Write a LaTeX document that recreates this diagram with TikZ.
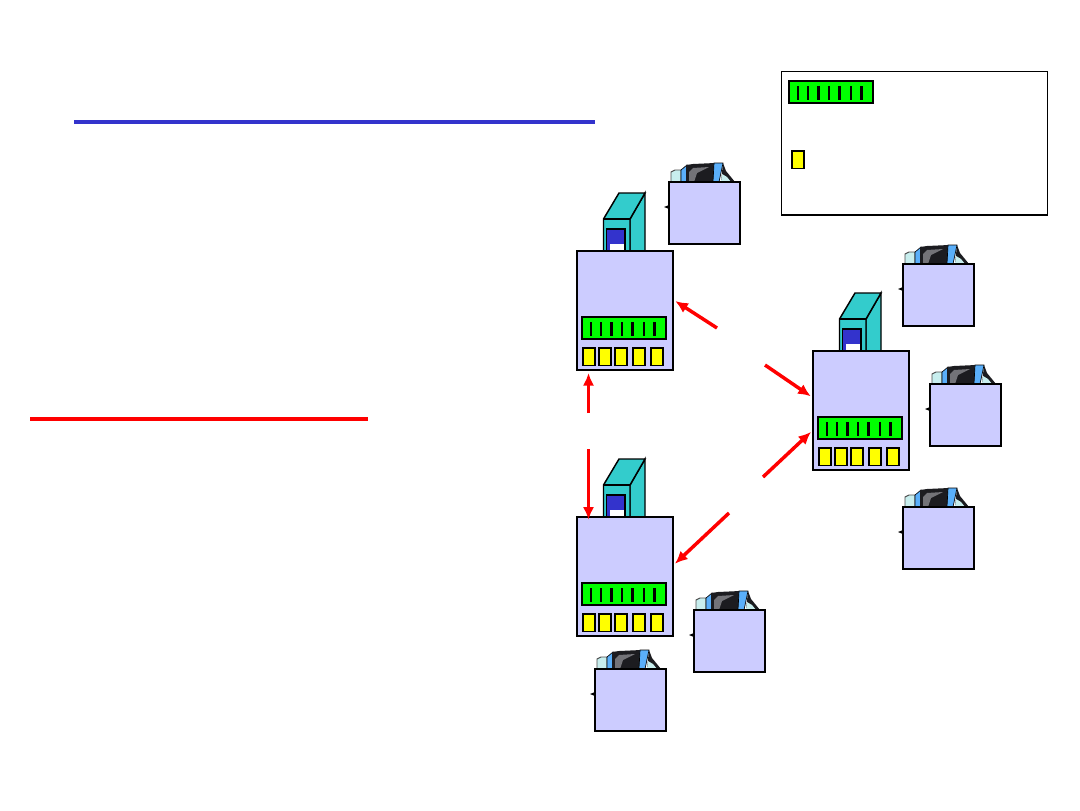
\documentclass[tikz,border=0pt]{standalone}
\usepackage{xcolor}
\usepackage{tikz}
\usetikzlibrary{arrows.meta}

\definecolor{boxfill}{RGB}{204,204,255}
\definecolor{towerteal}{RGB}{51,204,204}
\definecolor{towerblue}{RGB}{51,51,204}
\definecolor{bufgreen}{RGB}{0,255,0}
\definecolor{slotyellow}{RGB}{255,255,0}
\definecolor{screendark}{RGB}{28,28,32}
\definecolor{screengray}{RGB}{115,115,120}
\definecolor{barblue}{RGB}{90,175,250}
\definecolor{palecyan}{RGB}{200,238,238}

\tikzset{
    panel/.style={draw=black,fill=boxfill,line width=1.7pt,rectangle,inner sep=0pt,outer sep=0pt},
    hostbox/.style={panel,minimum width=53.5pt,minimum height=46.5pt},
    switchbox/.style={panel,minimum width=72pt,minimum height=89.5pt},
    buffer/.style={draw=black,fill=bufgreen,line width=1.6pt,rectangle,inner sep=0pt,outer sep=0pt,minimum width=63pt,minimum height=16.5pt},
    slot/.style={draw=black,fill=slotyellow,line width=1.1pt,rectangle,inner sep=0pt,outer sep=0pt,minimum width=9pt,minimum height=13pt},
    tick/.style={black,line width=1.8pt},
    link/.style={draw=red,line width=2.6pt,-{Latex[length=9.5pt,width=8.5pt]},shorten >=2pt},
    host/.pic={
        % monitor behind the box
        \fill[screendark] (54,-19) -- (57,-11) -- (66,0) -- (52,0) -- cycle;
        \fill[palecyan] (53,-8) -- (58,-5) -- (62,0) -- (52,0) -- cycle;
        \fill[palecyan,draw=black!70,line width=0.7pt] (2,-10) -- (6,-12) -- (12,-12) -- (12,0) -- (2,0) -- cycle;
        \fill[barblue,draw=black,line width=0.5pt] (12,0) -- (12,-12) -- (18,-17) -- (18,0) -- cycle;
        \fill[screendark] (17,-17) -- (24,-18) -- (46,-19) -- (45,0) -- (17,0) -- cycle;
        \fill[screengray] (20,0) -- (20,-10) -- (24,-14) -- (40,-15) -- (28,-9) -- (25,0) -- cycle;
        \fill[barblue,draw=black,line width=0.5pt] (45,-19) -- (54,-19) -- (50,0) -- (44,0) -- cycle;
        \fill[black] (0,23) -- (-5,25) -- (0,27) -- cycle;
        \node[hostbox,anchor=north west] (-body) at (0,0) {};
    },
    tower/.pic={
        % cabinet standing on the box
        \fill[towerteal,draw=black,line width=1.1pt] (26.5,0) -- (26.5,-32) -- (41.5,-58) -- (41.5,0) -- cycle;
        \fill[towerteal,draw=black,line width=1.1pt] (0,0) -- (0,-32) -- (15.5,-58) -- (41.5,-58) -- (26.5,-32) -- (26.5,0) -- cycle;
        \draw[black,line width=1.1pt] (0,-32) -- (26.5,-32);
        \fill[towerblue,draw=black,line width=0.9pt] (3,0) -- (3,-22) -- (21.5,-22) -- (21.5,0) -- cycle;
        \fill[white] (6,0) -- (6,-7) -- (20,-7) -- (20,0) -- cycle;
    },
    bufbars/.pic={
        \node[buffer,anchor=north west] (-frame) at (0,0) {};
        \foreach \barx in {9,19,29.5,40,50.5,62,72.5}
            \draw[tick] (\barx,5) -- (\barx,19);
    },
    switchunit/.pic={
        \pic at (26.5,0) {tower};
        \node[switchbox,anchor=north west] (-body) at (0,0) {};
        \pic (-buf) at (5,66) {bufbars};
        \foreach \slotx in {6,22,38,56,74}
            \node[slot,anchor=north west] at (\slotx,97) {};
    }
}

\begin{document}
\begin{tikzpicture}[x=0.75pt,y=-0.75pt,>=latex]
    \useasboundingbox (0,0) rectangle (1080,810);
    \fill[white] (0,0) rectangle (1080,810);

    % title rules
    \coordinate (titleL) at (74,122);
    \coordinate (titleR) at (595,122);
    \draw[towerblue,line width=2.6pt] (titleL) -- (titleR);
    \coordinate (headL) at (30,419);
    \coordinate (headR) at (368,419);
    \draw[red,line width=2.3pt] (headL) -- (headR);

    % legend
    \node[draw=black,line width=1pt,rectangle,minimum width=199.5pt,minimum height=107pt,inner sep=0pt,anchor=north west] (legend) at (781,71) {};
    \draw[black,line width=1.7pt] (legend.south west) -- (legend.south east);
    \pic (legbuf) at (789,81) {bufbars};
    \node[slot,anchor=north west] (legslot) at (792,151) {};

    % switches
    \pic (swa) at (577,251) {switchunit};
    \pic (swb) at (813,351) {switchunit};
    \pic (swc) at (577,517) {switchunit};

    % hosts
    \pic (h1) at (669,182) {host};
    \pic (h2) at (903,264) {host};
    \pic (h3) at (930,384) {host};
    \pic (h4) at (903,507) {host};
    \pic (h5) at (694,610) {host};
    \pic (h6) at (595,669) {host};

    % free ends of the arrows
    \coordinate (gapa) at (717,328);
    \coordinate (gapb) at (765,365);
    \coordinate (gapc) at (763,477);
    \coordinate (gapd) at (729,513);
    \coordinate (gape) at (588.5,413);
    \coordinate (gapf) at (588.5,449);

    \draw[link] (gapa) -- (swa-body.13);
    \draw[link] (gapb) -- (swb-body.165);
    \draw[link] (gapc) -- (swb-body.202);
    \draw[link] (gapd) -- (swc-body.13);
    \draw[link] (gape) -- (gape |- swa-body.south);
    \draw[link,shorten >=-2pt] (gapf) -- (gapf |- swc-body.north);
\end{tikzpicture}
\end{document}
